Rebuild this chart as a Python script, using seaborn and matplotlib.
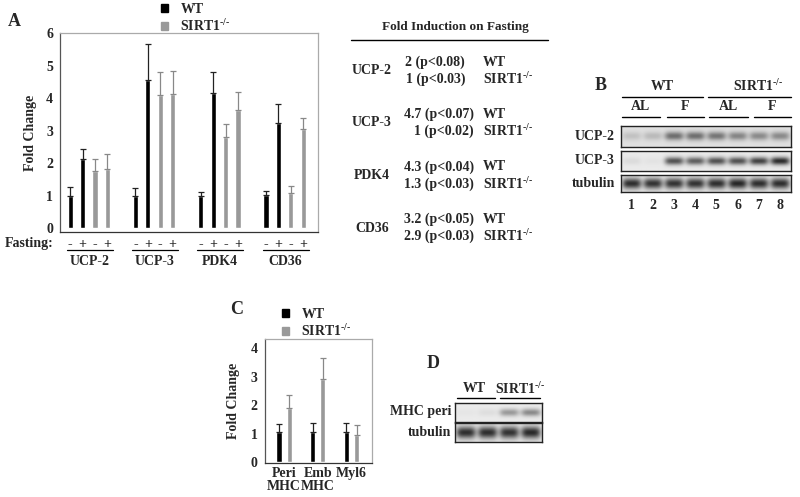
import numpy as np
import pandas as pd
import seaborn as sns
import matplotlib.pyplot as plt
from matplotlib.patches import Patch
from matplotlib.lines import Line2D
from matplotlib.container import BarContainer

# ----------------------------------------
# Data
genes = ["UCP-2", "UCP-3", "PDK4", "CD36"]
conditions = ["WT -", "WT +", "SIRT1 -", "SIRT1 +"]
fasting_signs = ["-", "+", "-", "+"]
wt_fed = [1.01, 1.00, 1.01, 1.04]
wt_fast = [2.12, 4.57, 4.17, 3.24]
ko_fed = [1.78, 4.10, 2.80, 1.09]
ko_fast = [1.84, 4.12, 3.65, 3.05]
wt_fed_err = [0.25, 0.25, 0.10, 0.10]
wt_fast_err = [0.33, 1.10, 0.63, 0.60]
ko_fed_err = [0.34, 0.72, 0.41, 0.21]
ko_fast_err = [0.45, 0.73, 0.53, 0.34]

fold_wt = ["2 (p<0.08)", "4.7 (p<0.07)", "4.3 (p<0.04)", "3.2 (p<0.05)"]
fold_ko = ["1 (p<0.03)", "1 (p<0.02)", "1.3 (p<0.03)", "2.9 (p<0.03)"]

markers = ["Peri\nMHC", "Emb\nMHC", "Myl6"]
c_wt = [1.06, 1.05, 1.08]
c_ko = [1.90, 2.93, 0.95]
c_wt_err = [0.28, 0.33, 0.28]
c_ko_err = [0.44, 0.70, 0.35]

# blot band intensities (0 = no band)
b_lanes = ["1", "2", "3", "4", "5", "6", "7", "8"]
b_ucp2 = [0.12, 0.15, 0.45, 0.45, 0.42, 0.36, 0.34, 0.34]
b_ucp3 = [0.06, 0.03, 0.60, 0.55, 0.60, 0.60, 0.66, 0.75]
b_tub = [0.72, 0.70, 0.70, 0.70, 0.72, 0.75, 0.72, 0.72]
d_mhc = [0.02, 0.05, 0.32, 0.38]
d_tub = [0.72, 0.72, 0.70, 0.74]
# ----------------------------------------

W, H = 800, 497
BLACK = "#000000"
GRAY = "#999999"
KO_LABEL = r"SIRT1$^{\text{-/-}}$"

sns.set_theme(style="white")
plt.rcParams["font.family"] = ["Liberation Serif", "DejaVu Serif"]
plt.rcParams["font.weight"] = "bold"
plt.rcParams["mathtext.fontset"] = "custom"
plt.rcParams["mathtext.rm"] = "Liberation Serif:bold"
plt.rcParams["mathtext.it"] = "Liberation Serif:bold"


def rect(l, t, r, b):
    return [l / W, 1 - b / H, (r - l) / W, (b - t) / H]


def fx(x):
    return x / W


def fy(y):
    return 1 - y / H


def ftext(x, y, s, **kw):
    kw.setdefault("fontsize", 10)
    kw.setdefault("fontweight", "bold")
    fig.text(fx(x), fy(y), s, **kw)


def hline(x0, x1, y, lw=1.0, color="black"):
    fig.add_artist(Line2D([fx(x0), fx(x1)], [fy(y), fy(y)], color=color, lw=lw))


def bar_containers(ax):
    return [c for c in ax.containers if isinstance(c, BarContainer)]


def add_errors(ax, err_lookup, colors):
    # one-sided error bars on top of each seaborn bar
    for k, cont in enumerate(bar_containers(ax)):
        errs = err_lookup[k]
        for bar in cont:
            xc = bar.get_x() + bar.get_width() / 2
            cat = int(round(xc))
            top = bar.get_height()
            ax.errorbar(xc, top, yerr=[[0], [errs[cat]]], color=colors[k],
                        lw=0.9, capsize=2, capthick=0.9, zorder=1)


def style_axes(ax):
    ax.tick_params(axis="both", length=0, pad=5, labelsize=10)
    for lab in ax.get_yticklabels() + ax.get_xticklabels():
        lab.set_fontweight("bold")
    ax.spines["left"].set_color("#555555")
    ax.spines["bottom"].set_color("#333333")
    ax.spines["top"].set_color("#aaaaaa")
    ax.spines["right"].set_color("#aaaaaa")
    for s in ax.spines.values():
        s.set_linewidth(0.9)


def draw_blot(r, bands, bg=0.90, sy=0.22):
    ax = fig.add_axes(r)
    n = len(bands)
    X, Y = np.meshgrid(np.linspace(0, n, n * 40), np.linspace(0, 1, 40))
    img = np.full(X.shape, bg)
    for i, b in enumerate(bands):
        shape = np.exp(-np.abs((X - i - 0.5) / 0.45) ** 4)
        img -= b * shape * np.exp(-((Y - 0.5) / sy) ** 2)
    ax.imshow(img, cmap="gray", vmin=0, vmax=1, aspect="auto",
              extent=(0, n, 0, 1), interpolation="bilinear")
    ax.set_xticks([])
    ax.set_yticks([])
    for s in ax.spines.values():
        s.set_color("#222222")
        s.set_linewidth(1.0)
    return ax


fig = plt.figure(figsize=(8, 4.97), dpi=100)

# ---------------- Panel A ----------------
df_a = pd.DataFrame({
    "gene": genes * 4,
    "cond": [c for c in conditions for _ in genes],
    "value": wt_fed + wt_fast + ko_fed + ko_fast,
})
ax_a = fig.add_axes(rect(60, 33.3, 318, 231.7))
sns.barplot(data=df_a, x="gene", y="value", hue="cond", order=genes,
            hue_order=conditions, palette=[BLACK, BLACK, GRAY, GRAY],
            width=0.76, gap=0.58, errorbar=None, legend=False, ax=ax_a,
            saturation=1)
a_bars = bar_containers(ax_a)
add_errors(ax_a, [wt_fed_err, wt_fast_err, ko_fed_err, ko_fast_err],
           ["#222222", "#222222", "#888888", "#888888"])
ax_a.set_ylim(-0.1, 6.0)
ax_a.set_xlim(-0.44, 3.51)
ax_a.set_yticks(range(0, 7))
ax_a.set_xticks([])
ax_a.set_xlabel("")
ax_a.set_ylabel("Fold Change", fontsize=10, fontweight="bold")
ax_a.yaxis.set_label_coords(-0.088, 0.5)
style_axes(ax_a)

# fasting signs, group underlines and gene names
tr = ax_a.get_xaxis_transform()
for k, cont in enumerate(a_bars):
    for bar in cont:
        xc = bar.get_x() + bar.get_width() / 2
        ax_a.text(xc, -0.065, fasting_signs[k], transform=tr, ha="center",
                  va="center", fontsize=10, fontweight="bold", clip_on=False)
for g in range(len(genes)):
    xs = [c[g].get_x() + c[g].get_width() / 2 for c in a_bars]
    ax_a.plot([min(xs) - 0.05, max(xs) + 0.08], [-0.093, -0.093],
              transform=tr, color="black", lw=0.9, clip_on=False)
    ax_a.text(np.mean(xs) + 0.01, -0.148, genes[g], transform=tr,
              ha="center", va="center", fontsize=10, fontweight="bold")
ftext(5, 243, "Fasting:", va="center")
ftext(8, 22, "A", fontsize=13, va="center")

fig.legend([Patch(color=BLACK), Patch(color=GRAY)], ["WT", KO_LABEL],
           loc="upper left", bbox_to_anchor=(fx(161), fy(3)), frameon=False,
           handlelength=0.5, handleheight=0.5, handletextpad=0.9,
           labelspacing=0.15, borderpad=0, borderaxespad=0,
           prop={"weight": "bold", "size": 10})

# ---------------- Table ----------------
ftext(455.5, 27, "Fold Induction on Fasting", ha="center", va="center",
      fontsize=9.5)
hline(351, 548, 39.5, lw=1.0)
row_y = [71, 123, 175.5, 228]
for i, g in enumerate(genes):
    y0 = row_y[i]
    ftext(372, y0, g, ha="center", va="center")
    xr = 465 if i == 0 else 474
    ftext(xr, y0 - 8.5, fold_wt[i], ha="right", va="center")
    ftext(xr, y0 + 8.5, fold_ko[i], ha="right", va="center")
    ftext(483, y0 - 8.5, "WT", ha="left", va="center")
    ftext(483, y0 + 8.5, KO_LABEL, ha="left", va="center")

# ---------------- Panel B ----------------
ftext(601, 85, "B", fontsize=13, ha="center", va="center")
ftext(662, 86, "WT", ha="center", va="center")
ftext(758, 86, KO_LABEL, ha="center", va="center")
hline(621.7, 703, 96.7)
hline(708, 790.7, 96.7)
for (x0, x1, lab) in [(621.7, 660, "AL"), (666.7, 704, "F"),
                      (709, 748, "AL"), (754, 790.7, "F")]:
    ftext((x0 + x1) / 2, 106.5, lab, ha="center", va="center")
    hline(x0, x1, 117.3)

ax_u2 = draw_blot(rect(620.7, 126, 790.7, 147.3), b_ucp2, bg=0.88, sy=0.2)
ax_u3 = draw_blot(rect(620.7, 151, 790.7, 171), b_ucp3, bg=0.92, sy=0.2)
ax_tb = draw_blot(rect(620.7, 175, 790.7, 191.7), b_tub, bg=0.90, sy=0.32)
ftext(615, 137, "UCP-2", ha="right", va="center")
ftext(615, 161, "UCP-3", ha="right", va="center")
ftext(615, 183, "tubulin", ha="right", va="center")
for i, lab in enumerate(b_lanes):
    ax_tb.text(i + 0.5, -0.85, lab, transform=ax_tb.transData, ha="center",
               va="center", fontsize=10, fontweight="bold", clip_on=False)

# ---------------- Panel C ----------------
df_c = pd.DataFrame({
    "marker": markers * 2,
    "geno": ["WT"] * 3 + ["SIRT1"] * 3,
    "value": c_wt + c_ko,
})
ax_c = fig.add_axes(rect(264.5, 339.3, 371.7, 463.3))
sns.barplot(data=df_c, x="marker", y="value", hue="geno", order=markers,
            hue_order=["WT", "SIRT1"], palette=[BLACK, GRAY], width=0.6,
            gap=0.5, errorbar=None, legend=False, ax=ax_c, saturation=1)
add_errors(ax_c, [c_wt_err, c_ko_err], ["#222222", "#888888"])
ax_c.set_ylim(-0.03, 4.3)
ax_c.set_xlim(-0.58, 2.6)
ax_c.set_yticks(range(0, 5))
ax_c.set_xlabel("")
ax_c.set_ylabel("Fold Change", fontsize=10, fontweight="bold")
ax_c.yaxis.set_label_coords(-0.23, 0.5)
style_axes(ax_c)
ax_c.tick_params(axis="x", pad=3)
for lab in ax_c.get_xticklabels():
    lab.set_linespacing(1.0)
ftext(236.7, 310, "C", fontsize=13, ha="center", va="center")
fig.legend([Patch(color=BLACK), Patch(color=GRAY)], ["WT", KO_LABEL],
           loc="upper left", bbox_to_anchor=(fx(282), fy(308)), frameon=False,
           handlelength=0.5, handleheight=0.5, handletextpad=0.9,
           labelspacing=0.15, borderpad=0, borderaxespad=0,
           prop={"weight": "bold", "size": 10})

# ---------------- Panel D ----------------
ftext(433.3, 364, "D", fontsize=13, ha="center", va="center")
ftext(474, 389, "WT", ha="center", va="center")
ftext(520, 389, KO_LABEL, ha="center", va="center")
hline(456.7, 495, 398.3)
hline(500, 540, 398.3)
draw_blot(rect(455, 402.7, 541.7, 421.7), d_mhc, bg=0.92, sy=0.2)
draw_blot(rect(455, 423.3, 541.7, 441.7), d_tub, bg=0.90, sy=0.32)
ftext(451.7, 411.7, "MHC peri", ha="right", va="center")
ftext(451.7, 432.3, "tubulin", ha="right", va="center")

fig.savefig("out.png", dpi=100)
